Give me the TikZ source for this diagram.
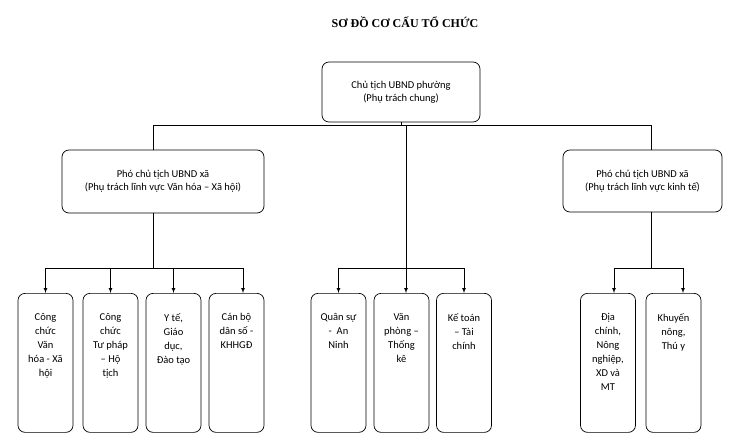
\documentclass[tikz,border=0pt]{standalone}
\usepackage{fontspec}
\setmainfont{Carlito}
\newfontfamily\titlefont{Liberation Serif}
\begin{document}
\begin{tikzpicture}[x=1pt,y=-1pt,line width=0.7pt,
  box/.style={draw,rounded corners=7pt,align=center,font=\fontsize{10.5}{13}\selectfont,inner sep=1pt},
  leaf/.style={draw,rounded corners=7pt,minimum width=55pt,minimum height=139pt,anchor=north,inner sep=0pt},
  leaftext/.style={align=center,anchor=north,font=\fontsize{10.5}{14}\selectfont,inner sep=0pt},
  ln/.style={},
  arr/.style={-latex}]
\useasboundingbox (0,0) rectangle (740,445);
\node[font=\titlefont\bfseries\fontsize{12}{14}\selectfont] (title) at (405,22) {SƠ ĐỒ CƠ CẤU TỔ CHỨC};
\node[box,minimum width=158pt,minimum height=60pt] (top) at (401,92) {Chủ tịch UBND phường\\(Phụ trách chung)};
\node[box,minimum width=202pt,minimum height=63pt] (vp1) at (163,181.5) {Phó chủ tịch UBND xã\\(Phụ trách lĩnh vực Văn hóa -- Xã hội)};
\node[box,minimum width=159pt,minimum height=62pt] (vp2) at (642.5,181) {Phó chủ tịch UBND xã\\(Phụ trách lĩnh vực kinh tế)};
\foreach \n/\x/\t in {a/45.5/{Công\\chức\\Văn\\hóa - Xã\\hội}, b/110.5/{Công\\chức\\Tư pháp\\-- Hộ\\tịch}, c/173.5/{Y tế,\\Giáo\\dục,\\Đào tạo}, d/236.5/{Cán bộ\\dân số -\\KHHGĐ}, e/338.5/{Quân sự\\- \ An\\Ninh}, f/401.5/{Văn\\phòng --\\Thống\\kê}, g/464/{Kế toán\\-- Tài\\chính}, h/608/{Địa\\chính,\\Nông\\nghiệp,\\XD và\\MT}, i/673.5/{Khuyến\\nông,\\Thú y}}{
  \node[leaf] (\n) at (\x,293) {};
  \node[leaftext] (\n t) at (\x,\ifx\n h 326\else 313\fi) {\t};
}
\coordinate (j1) at (153,125);
\coordinate (j2) at (651,125);
\coordinate (jm) at (406,125);
\draw (top.south) -- (401,125);
\draw (j1) -- (j2);
\draw (j1) -- (vp1.north -| j1);
\draw (j2) -- (vp2.north -| j2);
\draw (jm) -- (406,268);
% left group
\draw (vp1.south -| j1) -- (153,268);
\draw (45.5,268) -- (243,268);
\foreach \n/\x in {a/45.5,b/110.5,c/173.5,d/243} \draw[arr] (\x,268) -- (\x,293);
% middle
\draw (338.5,268) -- (464,268);
\foreach \n/\x in {e/338.5,f/406,g/464} \draw[arr] (\x,268) -- (\x,293);
% right
\draw (vp2.south -| j2) -- (651,268);
\draw (614,268) -- (683,268);
\draw[arr] (614,268) -- (614,293);
\draw[arr] (683,268) -- (683,293);
\end{tikzpicture}
\end{document}
